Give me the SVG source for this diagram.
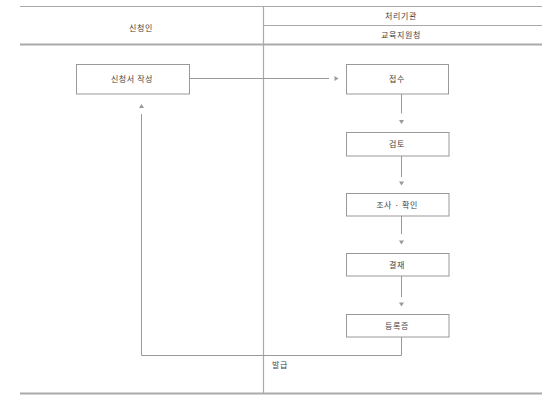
<svg xmlns="http://www.w3.org/2000/svg" width="559" height="400" viewBox="0 0 559 400">
<style>
.t{font-family:"Noto Sans CJK KR","Noto Sans",sans-serif;font-size:8px;fill:#444;text-anchor:middle;letter-spacing:0.6px}
.box{fill:#fff;stroke:#999;stroke-width:1}
.ln{fill:none;stroke:#999;stroke-width:1}
.hd{fill:none;stroke:#aaa}
.ah{fill:#999}
</style>
<rect width="559" height="400" fill="#fff"/>
<g id="frame">
<line class="hd" x1="20" y1="6.5" x2="542" y2="6.5" stroke-width="1.2"/>
<line class="hd" x1="263.5" y1="25.5" x2="542" y2="25.5" stroke-width="1.2"/>
<line class="hd" x1="20" y1="44.5" x2="542" y2="44.5" stroke-width="2"/>
<line class="hd" x1="20" y1="393.5" x2="542" y2="393.5" stroke-width="2"/>
<line class="hd" x1="263.5" y1="6" x2="263.5" y2="393" stroke-width="1.2"/>
<text class="t" x="141" y="31">신청인</text>
<text class="t" x="401" y="19">처리기관</text>
<text class="t" x="401" y="38">교육지원청</text>
</g>
<g id="connectors">
<line class="ln" x1="190" y1="78.5" x2="329" y2="78.5"/>
<polygon class="ah" points="334.5,76 338.5,78.5 334.5,81"/>
<line class="ln" x1="401.5" y1="94" x2="401.5" y2="113.5"/>
<polygon class="ah" points="399,120 404,120 401.5,124"/>
<line class="ln" x1="401.5" y1="156" x2="401.5" y2="177"/>
<polygon class="ah" points="399,181.5 404,181.5 401.5,185.5"/>
<line class="ln" x1="401.5" y1="216" x2="401.5" y2="234"/>
<polygon class="ah" points="399,240.5 404,240.5 401.5,244.5"/>
<line class="ln" x1="401.5" y1="276" x2="401.5" y2="297"/>
<polygon class="ah" points="399,302.5 404,302.5 401.5,306.5"/>
<polyline class="ln" points="401.5,337 401.5,355.5 141.5,355.5 141.5,114"/>
<polygon class="ah" points="139,108 144,108 141.5,104"/>
<text class="t" x="280" y="367.5">발급</text>
</g>
<g id="n1"><rect class="box" x="76.5" y="64.5" width="113" height="29.5"/><text class="t" x="132" y="82">신청서 작성</text></g>
<g id="n2"><rect class="box" x="346.5" y="64.5" width="102" height="29.5"/><text class="t" x="397" y="82">접수</text></g>
<g id="n3"><rect class="box" x="346.5" y="132.5" width="102.5" height="23.5"/><text class="t" x="397" y="147">검토</text></g>
<g id="n4"><rect class="box" x="346.5" y="193.5" width="102.5" height="22.5"/><text class="t" x="397" y="207.5">조사 · 확인</text></g>
<g id="n5"><rect class="box" x="346.5" y="253.5" width="102.5" height="22.5"/><text class="t" x="397" y="267.5">결재</text></g>
<g id="n6"><rect class="box" x="346.5" y="314.5" width="102.5" height="22.5"/><text class="t" x="397" y="328.5">등록증</text></g>
</svg>
